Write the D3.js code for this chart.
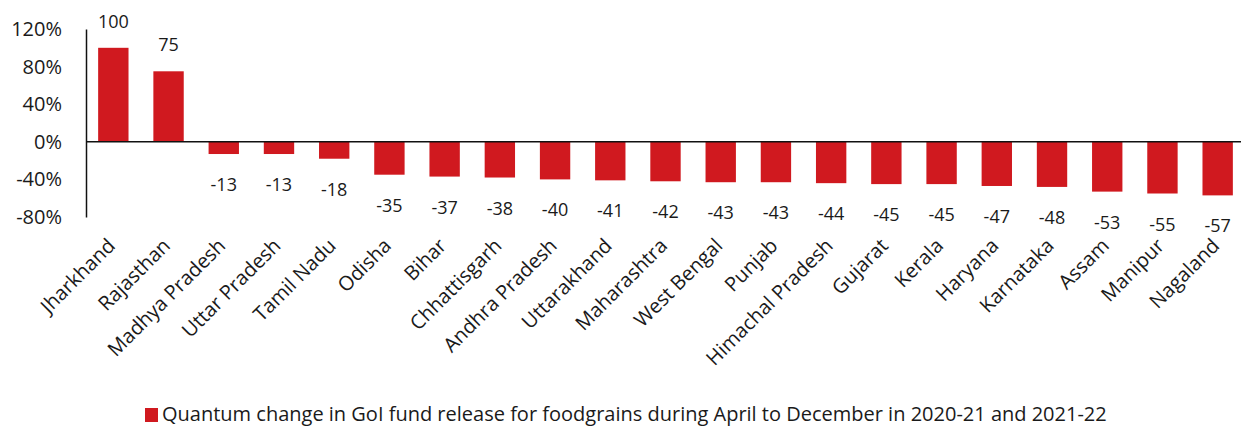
<!DOCTYPE html>
<html>
<head>
<meta charset="utf-8">
<script src="https://cdn.jsdelivr.net/npm/d3@7"></script>
<style>
  body { margin: 0; background: #fff; }
  text { font-family: "Open Sans", Lato, sans-serif; fill: #1a1a1a; }
</style>
</head>
<body>
<div id="chart"></div>
<script>
var states = ["Jharkhand", "Rajasthan", "Madhya Pradesh", "Uttar Pradesh", "Tamil Nadu",
    "Odisha", "Bihar", "Chhattisgarh", "Andhra Pradesh", "Uttarakhand", "Maharashtra",
    "West Bengal", "Punjab", "Himachal Pradesh", "Gujarat", "Kerala", "Haryana",
    "Karnataka", "Assam", "Manipur", "Nagaland"];
var change = [100, 75, -13, -13, -18, -35, -37, -38, -40, -41, -42, -43, -43, -44,
    -45, -45, -47, -48, -53, -55, -57];
var yTicks = [-80, -40, 0, 40, 80, 120];
var legendLabel = "Quantum change in GoI fund release for foodgrains during April to December in 2020-21 and 2021-22";

var W = 1247, H = 428;
var red = "#d0191f";

var svg = d3.select("#chart")
    .append("svg")
    .attr("width", W)
    .attr("height", H);

var x = d3.scaleBand()
    .domain(states)
    .range([86, 1245])
    .paddingInner(0.45)
    .paddingOuter(0.22);

var y = d3.scaleLinear()
    .domain([-80, 120])
    .range([217, 29]);

// y axis: labels only plus a vertical line
var yAxis = svg.append("g")
    .attr("transform", "translate(86,0)")
    .call(d3.axisLeft(y).tickValues(yTicks).tickSize(0).tickPadding(24)
        .tickFormat(function (d) { return d + "%"; }));
yAxis.select(".domain").attr("stroke", "#111").attr("stroke-width", 1.5);
yAxis.selectAll("text")
    .style("font-size", "20px")
    .style("font-family", "'Open Sans', sans-serif")
    .attr("fill", "#1a1a1a");

// bars
svg.selectAll("rect.bar")
    .data(states)
    .enter()
    .append("rect")
    .attr("class", "bar")
    .attr("x", function (d) { return x(d); })
    .attr("width", x.bandwidth())
    .attr("y", function (d, i) { return y(Math.max(0, change[i])); })
    .attr("height", function (d, i) { return Math.abs(y(change[i]) - y(0)); })
    .attr("fill", red);

// zero line
svg.append("line")
    .attr("x1", 86).attr("x2", 1241)
    .attr("y1", y(0)).attr("y2", y(0))
    .attr("stroke", "#111").attr("stroke-width", 1.5);

// value labels
svg.selectAll("text.val")
    .data(states)
    .enter()
    .append("text")
    .attr("class", "val")
    .attr("x", function (d) { return x(d) + x.bandwidth() / 2; })
    .attr("y", function (d, i) {
        return change[i] >= 0 ? y(change[i]) - 20 : y(change[i]) + 37;
    })
    .attr("text-anchor", "middle")
    .style("font-size", "18px")
    .text(function (d, i) { return change[i]; });

// category labels
svg.selectAll("text.cat")
    .data(states)
    .enter()
    .append("text")
    .attr("class", "cat")
    .attr("transform", function (d) {
        return "translate(" + (x(d) + x.bandwidth() / 2 + 3) + ",247) rotate(-45)";
    })
    .attr("text-anchor", "end")
    .style("font-size", "20px")
    .text(function (d) { return d; });

// legend (text squeezed horizontally to the width of the original)
var legend = svg.append("g");
legend.append("rect")
    .attr("x", 145).attr("y", 408)
    .attr("width", 13).attr("height", 14)
    .attr("fill", red);
var legText = legend.append("text")
    .attr("x", 0).attr("y", 0)
    .style("font-size", "20px")
    .text(legendLabel);
var natural = legText.node().getComputedTextLength();
var sx = Math.min(1, 971 / natural);
legText.attr("transform", "translate(162,421) scale(" + sx + ",1)");
</script>
</body>
</html>
